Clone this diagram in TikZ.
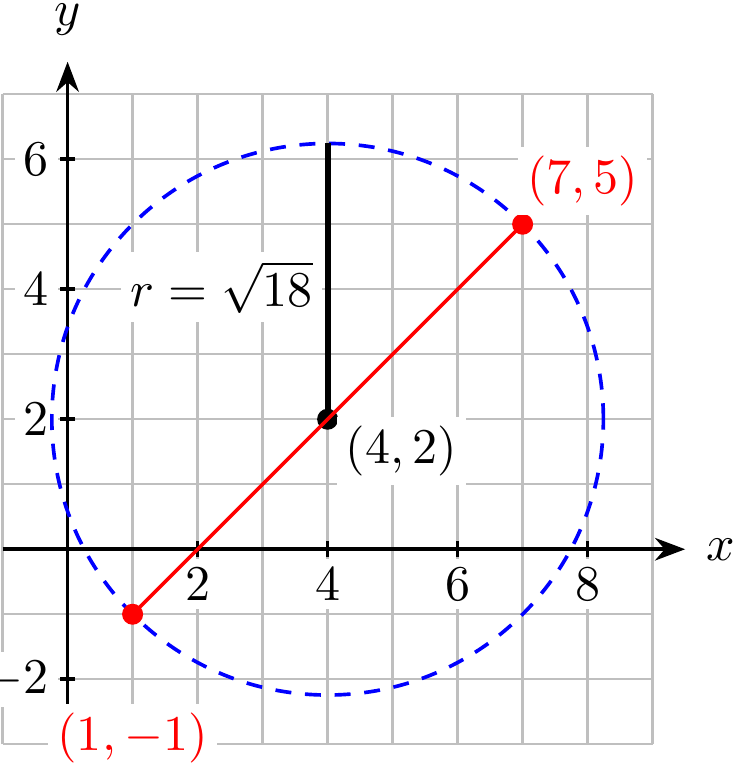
\documentclass[tikz,border=0pt]{standalone}
\usepackage{amsmath,amssymb}
\usepackage{tikz}
\usetikzlibrary{arrows.meta,positioning,calc}

\begin{document}
\begin{tikzpicture}[
    x=0.5cm, y=0.5cm,
    >={Stealth},
    font=\fontsize{10.8pt}{13pt}\selectfont,
    axis/.style={->, thick},
    tick/.style={thick},
    ticklbl/.style={fill=white, inner sep=2pt},
    pt/.style={circle, fill, inner sep=0pt, minimum size=4.6pt},
    lbl/.style={fill=white, inner sep=2pt},
  ]
    \useasboundingbox (-1.04,-3.35) rectangle (10.29,8.45);

    % --- grid and axes ---
    \draw[gray!50, line width=0.5pt, step=1] (-1,-3) grid (9,7);
    \coordinate (xs) at (-1,0);
    \coordinate (xe) at (9.5,0);
    \coordinate (ys) at (0,-2.5);
    \coordinate (ye) at (0,7.5);
    \draw[axis] (xs) -- (xe) node[right=1pt] (xl) {$x$};
    \draw[axis] (ys) -- (ye) node[above=2pt] (yl) {$y$};
    \foreach \t in {2,4,6,8}
      \draw[tick] (\t,0.12) -- (\t,-0.12) node[below, ticklbl] (xt\t) {$\t$};
    \foreach \t in {-2,2,4,6}
      \draw[tick] (0.12,\t) -- (-0.12,\t) node[left, ticklbl] (yt\t) {$\t$};

    % --- circle with centre (4,2), radius sqrt(18) ---
    \coordinate (c) at (4,2);
    \coordinate (p) at (7,5);
    \coordinate (q) at (1,-1);
    \coordinate (top) at (4,{2+sqrt(18)});
    \draw[blue, dashed, thick, dash pattern=on 3.5pt off 3pt] (c) circle ({sqrt(18)});

    % radius
    \draw[line width=1.3pt] (c) -- (top);
    \node[lbl, left=1pt of $(c)!0.5!(top)$, yshift=-1.3pt] (rl) {$r=\sqrt{18}$};
    \node[pt] (cdot) at (c) {};

    % --- diameter ---
    \draw[red, thick] (q) -- (p);
    \node[pt, red] (pdot) at (p) {};
    \node[pt, red] (qdot) at (q) {};

    \node[lbl, below right=0pt of cdot, yshift=2.5pt] (cl) {$(4,2)$};
    \node[lbl, text=red, above right=0pt of pdot, xshift=-3pt] (pl) {$(7,5)$};
    \node[lbl, text=red, below=17pt of qdot] (ql) {$(1,-1)$};
  \end{tikzpicture}
\end{document}
